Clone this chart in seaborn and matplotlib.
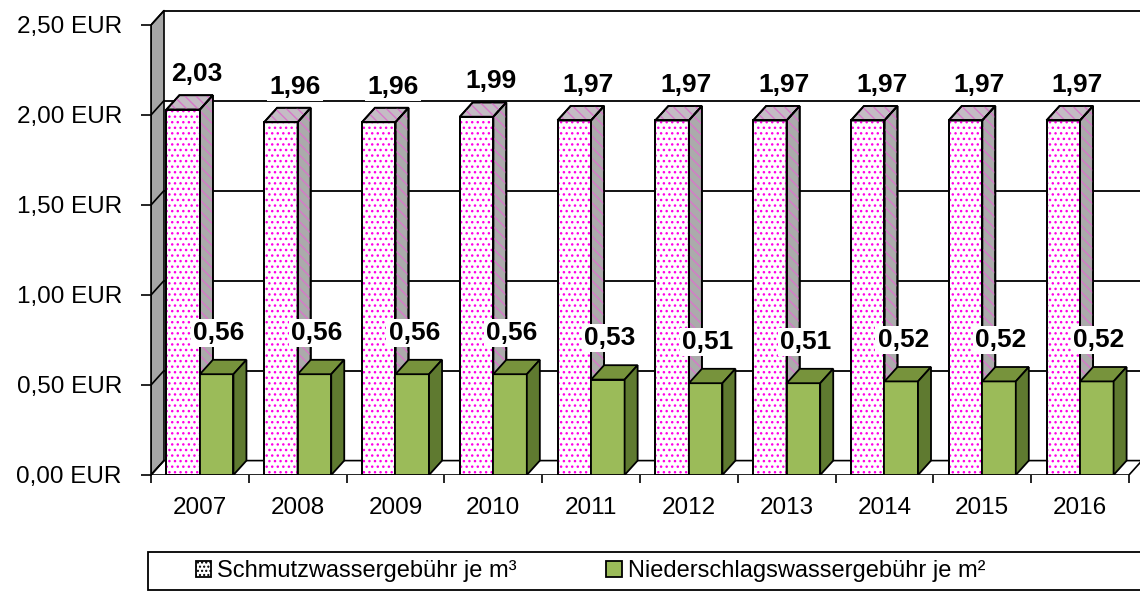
import numpy as np
import pandas as pd
import seaborn as sns
import matplotlib.pyplot as plt
from matplotlib.patches import Polygon, Rectangle, Patch

# data
years = ['2007', '2008', '2009', '2010', '2011', '2012', '2013', '2014', '2015', '2016']
schmutz = [2.03, 1.96, 1.96, 1.99, 1.97, 1.97, 1.97, 1.97, 1.97, 1.97]
nieder = [0.56, 0.56, 0.56, 0.56, 0.53, 0.51, 0.51, 0.52, 0.52, 0.52]
series = ['Schmutzwassergebühr je m³', 'Niederschlagswassergebühr je m²']
yticks = [0.0, 0.5, 1.0, 1.5, 2.0, 2.5]

df = pd.DataFrame({
    'year': years * 2,
    'value': schmutz + nieder,
    'series': [series[0]] * len(years) + [series[1]] * len(years),
})

sns.set_style('white')
plt.rcParams['font.family'] = ['Liberation Sans', 'DejaVu Sans']
plt.rcParams['hatch.linewidth'] = 1.0
plt.rcParams['text.color'] = 'black'
plt.rcParams['xtick.color'] = 'black'
plt.rcParams['ytick.color'] = 'black'

fig = plt.figure(figsize=(11.4, 5.92), dpi=100)
ax = fig.add_axes([151 / 1140, 1 - 475 / 592, 989 / 1140, 471.6 / 592])

# depth of the fake 3d effect (data units)
dx, dy = 0.133, 0.08
x0, x1 = -0.5, len(years) - 0.5

pink = '#FF00E6'
green = '#9BBB59'

sns.barplot(data=df, x='year', y='value', hue='series', palette=['white', green],
            width=0.686, edgecolor='black', linewidth=1.3, saturation=1,
            legend=False, ax=ax)

ax.set_xlim(x0, x1 + dx - 0.02)
ax.set_ylim(0, 2.62)

# back wall gridlines
for v in yticks:
    ax.plot([x0 + dx, x1 + dx + 0.5], [v + dy, v + dy], color='black', lw=1.3, zorder=0.5)

# left side wall
wall = Polygon([(x0, 0), (x0, 2.5), (x0 + dx, 2.5 + dy), (x0 + dx, dy)],
               closed=True, facecolor='#A6A6A6', edgecolor='black', lw=1.2, zorder=0.6)
ax.add_patch(wall)
for v in yticks:
    ax.plot([x0, x0 + dx], [v, v + dy], color='black', lw=1.2, zorder=0.7)

# floor
floor = Polygon([(x0, 0), (x1, 0), (x1 + dx, dy), (x0 + dx, dy)],
                closed=True, facecolor='white', edgecolor='black', lw=1.2, zorder=0.6)
ax.add_patch(floor)

# 3d faces for the bars
for i, cont in enumerate(ax.containers):
    z = 3 + i
    for bar in cont:
        x, w, h = bar.get_x(), bar.get_width(), bar.get_height()
        bar.set_zorder(z)
        top = [(x, h), (x + w, h), (x + w + dx, h + dy), (x + dx, h + dy)]
        side = [(x + w, 0), (x + w + dx, dy), (x + w + dx, h + dy), (x + w, h)]
        if i == 0:
            ax.add_patch(Rectangle((x, 0), w, h, facecolor='none', edgecolor=pink,
                                   lw=0, hatch='...', zorder=z + 0.1))
            ax.add_patch(Polygon(top, facecolor='#C4BCC4', edgecolor='black', lw=1.3, zorder=z))
            ax.add_patch(Polygon(side, facecolor='#ABABAB', edgecolor='black', lw=1.3, zorder=z))
            ax.add_patch(Polygon(top, facecolor='none', edgecolor='#D878CA', lw=0,
                                 hatch='\\\\\\', zorder=z + 0.1))
            ax.add_patch(Polygon(side, facecolor='none', edgecolor='#D878CA', lw=0,
                                 hatch='\\\\\\', zorder=z + 0.1))
            ax.add_patch(Rectangle((x, 0), w, h, facecolor='none', edgecolor='black',
                                   lw=1.3, zorder=z + 0.2))
            ax.add_patch(Polygon(top, facecolor='none', edgecolor='black', lw=1.3, zorder=z + 0.2))
            ax.add_patch(Polygon(side, facecolor='none', edgecolor='black', lw=1.3, zorder=z + 0.2))
        else:
            ax.add_patch(Polygon(top, facecolor='#77933C', edgecolor='black', lw=1.3, zorder=z))
            ax.add_patch(Polygon(side, facecolor='#5F7A30', edgecolor='black', lw=1.3, zorder=z))

# value labels
for i, cont in enumerate(ax.containers):
    vals = schmutz if i == 0 else nieder
    xoff, yoff = (14, 9) if i == 0 else (2, 15)
    for bar, v in zip(cont, vals):
        cx = bar.get_x() + bar.get_width() / 2
        ax.annotate(f'{v:.2f}'.replace('.', ','), (cx, v + dy), xytext=(xoff, yoff),
                    textcoords='offset pixels', ha='center', va='bottom',
                    fontsize=19, fontweight='bold', zorder=10,
                    bbox=dict(facecolor='white', edgecolor='none', pad=1.5))

# axes styling
for s in ['top', 'right', 'bottom']:
    ax.spines[s].set_visible(False)
ax.spines['left'].set_bounds(0, 2.5)
ax.spines['left'].set_linewidth(1.2)
ax.spines['left'].set_color('black')
ax.spines['left'].set_zorder(0.8)
ax.set_yticks(yticks)
ax.set_yticklabels([f'{v:.2f} EUR'.replace('.', ',') for v in yticks], fontsize=17.5)
ax.set_xticks(range(len(years)))
ax.set_xticklabels(years, fontsize=17.5)
ax.set_xticks(np.arange(x0, x1 + 0.01, 1.0), minor=True)
ax.tick_params(axis='y', left=True, length=7, width=1.2, pad=14)
ax.tick_params(axis='x', which='major', bottom=False, length=0, pad=16)
ax.tick_params(axis='x', which='minor', bottom=True, length=6, width=1.2)
ax.set_xlabel('')
ax.set_ylabel('')

# legend
fig.patches.append(Rectangle((148 / 1140, 2 / 592), 1000 / 1140, 38 / 592,
                             transform=fig.transFigure, facecolor='white',
                             edgecolor='black', lw=1.3))
handles = [Patch(facecolor='white', edgecolor=pink, hatch='....', lw=0),
           Patch(facecolor=green, edgecolor='black', lw=1.3)]
leg = fig.legend(handles, series, loc='center left', bbox_to_anchor=(184 / 1140, 1 - 571 / 592),
                 ncol=2, frameon=False, fontsize=17, handlelength=0.65, handleheight=0.65,
                 handletextpad=0.25, columnspacing=3.8, borderpad=0)
for h in leg.legend_handles:
    h.set_linewidth(1.3)
leg.legend_handles[0].set_edgecolor('black')

fig.savefig('out.png', dpi=100)
